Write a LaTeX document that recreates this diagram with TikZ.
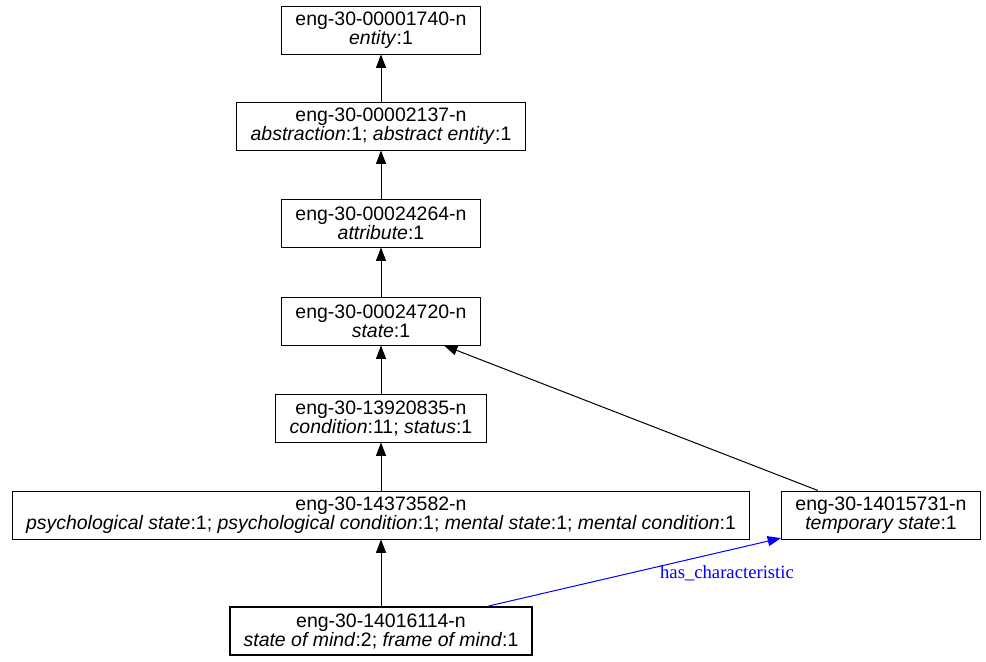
\documentclass[tikz,border=0pt]{standalone}
\usepackage{fontspec}
\setmainfont{Liberation Sans}
\newfontfamily\edgefont{Liberation Serif}
\usetikzlibrary{arrows.meta}
\definecolor{relblue}{HTML}{0000FF}

\tikzset{
  synset/.style={draw=black, line width=0.75pt, align=center, inner xsep=10.5pt, inner ysep=2pt,
    minimum height=36pt, font=\fontsize{14.6}{14.25}\selectfont},
  focus/.style={synset, line width=1.5pt},
  hyper/.style={draw=black, line width=0.75pt, -{Triangle[length=10pt, width=7.5pt]}},
  relation/.style={draw=relblue, line width=0.75pt, -{Triangle[length=10pt, width=7.5pt]}},
  rellabel/.style={text=relblue, font=\edgefont\fontsize{14}{14}\selectfont}
}

\begin{document}
\begin{tikzpicture}[x=0.75pt, y=-0.75pt]
\useasboundingbox (0,0) rectangle (986,661);
% synsets
\node[synset] (entity) at (381,30) {eng-30-00001740-n\\\textit{entity}:1};
\node[synset] (abstraction) at (381,126) {eng-30-00002137-n\\\textit{abstraction}:1; \textit{abstract entity}:1};
\node[synset] (attribute) at (381,223) {eng-30-00024264-n\\\textit{attribute}:1};
\node[synset] (state) at (381,321) {eng-30-00024720-n\\\textit{state}:1};
\node[synset] (condition) at (381,418) {eng-30-13920835-n\\\textit{condition}:11; \textit{status}:1};
\node[synset] (psych) at (381,515) {eng-30-14373582-n\\\textit{psychological state}:1; \textit{psychological condition}:1; \textit{mental state}:1; \textit{mental condition}:1};
\node[synset] (temporary) at (881,515) {eng-30-14015731-n\\\textit{temporary state}:1};
\node[focus] (mind) at (381,631) {eng-30-14016114-n\\\textit{state of mind}:2; \textit{frame of mind}:1};
% hypernym links
\draw[hyper] (abstraction) -- (entity);
\draw[hyper] (attribute) -- (abstraction);
\draw[hyper] (state) -- (attribute);
\draw[hyper] (condition) -- (state);
\draw[hyper] (psych) -- (condition);
\draw[hyper] (mind) -- (psych);
\draw[hyper] (temporary) -- (state);
% other relation
\draw[relation] (mind) -- (temporary);
\node[rellabel] (charlabel) at (727,573) {has\_characteristic};
\end{tikzpicture}
\end{document}
